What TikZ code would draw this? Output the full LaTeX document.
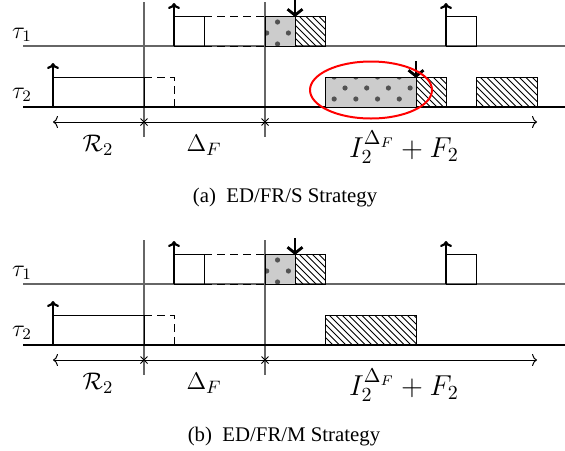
\documentclass[tikz,border=0pt]{standalone}
\usepackage{fontspec}
\newfontfamily\capfont{Liberation Serif}
\usetikzlibrary{arrows.meta,shapes.geometric}
\tikzset{
  gridline/.style={draw=black!60, line width=0.8pt},
  tau1line/.style={draw=black!60, line width=0.7pt},
  tau2line/.style={draw=black, line width=0.7pt},
  jobbox/.style={draw=black, line width=0.5pt},
  dashbox/.style={draw=black, line width=0.5pt, dash pattern=on 4pt off 2.5pt},
  relarrow/.style={line width=1.1pt, -{To[length=3pt,width=6pt]}},
  dlarrow/.style={line width=1.4pt, -{Straight Barb[length=3pt,width=7.5pt]}},
  dimline/.style={line width=0.5pt, {To[length=2.5pt,width=6pt]}-{To[length=2.5pt,width=6pt]}},
  mlabel/.style={font=\fontsize{13}{15}\selectfont, inner sep=0pt},
  blabel/.style={font=\Large, inner sep=0pt},
  tlabel/.style={font=\fontsize{11.5}{13}\selectfont, inner sep=0pt},
  caplabel/.style={font=\capfont\fontsize{10.4}{12}\selectfont, inner sep=0pt},
}
% dotted box: x1, ytop, x2, ybot, xphase, yphase
\newcommand\mydotbox[6]{%
  \fill[black!20] (#1,#2) rectangle (#3,#4);
  \begin{scope}
    \clip (#1,#2) rectangle (#3,#4);
    \foreach \k in {-3,...,3}{
      \foreach \m in {-2,...,6}{
        \pgfmathsetmacro\yy{#6+11*\k}
        \pgfmathsetmacro\xx{#5+21.7*\m+10.85*mod(abs(\k),2)}
        \fill[black!68] (\xx,\yy) circle (2.6);
      }
    }
  \end{scope}
  \draw[jobbox] (#1,#2) rectangle (#3,#4);
}
% hatched box: x1, ytop, x2, ybot
\newcommand\myhatchbox[4]{%
  \begin{scope}
    \clip (#1,#2) rectangle (#3,#4);
    \foreach \s in {-35,-28.5,...,100}{
      \draw[line width=0.5pt] (#1+\s,#2) -- ++(32,32);
    }
  \end{scope}
  \draw[jobbox] (#1,#2) rectangle (#3,#4);
}
% common part of a panel
\newcommand\mycommon{%
  % grid lines
  \draw[gridline] (144,2) -- (144,137);
  \draw[gridline] (265,2) -- (265,137);
  % baselines
  \draw[tau1line] (23,46) -- (565,46);
  \draw[tau2line] (23,107) -- (565,107);
  % tau1
  \draw[jobbox] (174,46) rectangle (204,16);
  \draw[dashbox] (204,16) -- (265,16);
  \draw[dashbox] (204,46) -- (265,46);
  \mydotbox{265}{16}{295}{46}{266.7}{33}
  \myhatchbox{295}{16}{325}{46}
  \draw[jobbox] (446,46) rectangle (476,16);
  \coordinate (r1a) at (174,46); \coordinate (r1at) at (174,3);
  \draw[relarrow] (r1a) -- (r1at);
  \coordinate (r1b) at (446,46); \coordinate (r1bt) at (446,3);
  \draw[relarrow] (r1b) -- (r1bt);
  \coordinate (d1s) at (295,0); \coordinate (d1e) at (295,17);
  \draw[dlarrow] (d1s) -- (d1e);
  % tau2 first job
  \draw[jobbox] (53,107) -- (53,77) -- (144,77) -- (144,107);
  \draw[dashbox] (144,77) -- (174,77) -- (174,107);
  \coordinate (r2a) at (53,107); \coordinate (r2at) at (53,63);
  \draw[relarrow] (r2a) -- (r2at);
  % dimension line
  \coordinate (dimL) at (53,122); \coordinate (dimR) at (537,122);
  \draw[dimline] (dimL) -- (dimR);
  \foreach \xx in {144,265}{
    \draw[line width=0.5pt] (\xx-3.5,118.5) -- (\xx+3.5,125.5);
    \draw[line width=0.5pt] (\xx-3.5,125.5) -- (\xx+3.5,118.5);
  }
}
\begin{document}
\begin{tikzpicture}[x=0.5pt,y=-0.5pt]
\useasboundingbox (0,0) rectangle (565,450);
% ---------------- panel (a)
\begin{scope}
  \mycommon
  \node[tlabel] (ta1) at (22,35) {$\tau_1$};
  \node[tlabel] (ta2) at (22,95) {$\tau_2$};
  \mydotbox{325}{77}{416}{107}{345}{88}
  \myhatchbox{416}{77}{446}{107}
  \myhatchbox{476}{77}{537}{107}
  \coordinate (d2s) at (416,61); \coordinate (d2e) at (416,78);
  \draw[dlarrow] (d2s) -- (d2e);
  \node[draw=red, line width=1pt, ellipse, minimum width=61pt, minimum height=28.5pt, inner sep=0pt] (ell) at (371,90) {};
  \node[mlabel] (la1) at (98,145) {$\mathcal{R}_2$};
  \node[mlabel] (la2) at (204,145) {$\Delta_F$};
  \node[blabel] (la3) at (404,147) {$I_2^{\Delta_F}+F_2$};
  \node[caplabel] (capa) at (285,198) {(a)\enspace ED/FR/S Strategy};
\end{scope}
% ---------------- panel (b)
\begin{scope}[shift={(0,238)}]
  \mycommon
  \node[tlabel] (tb1) at (22,35) {$\tau_1$};
  \node[tlabel] (tb2) at (22,95) {$\tau_2$};
  \myhatchbox{325}{77}{416}{107}
  \node[mlabel] (lb1) at (98,145) {$\mathcal{R}_2$};
  \node[mlabel] (lb2) at (204,145) {$\Delta_F$};
  \node[blabel] (lb3) at (404,147) {$I_2^{\Delta_F}+F_2$};
  \node[caplabel] (capb) at (284,199) {(b)\enspace ED/FR/M Strategy};
\end{scope}
\end{tikzpicture}
\end{document}
